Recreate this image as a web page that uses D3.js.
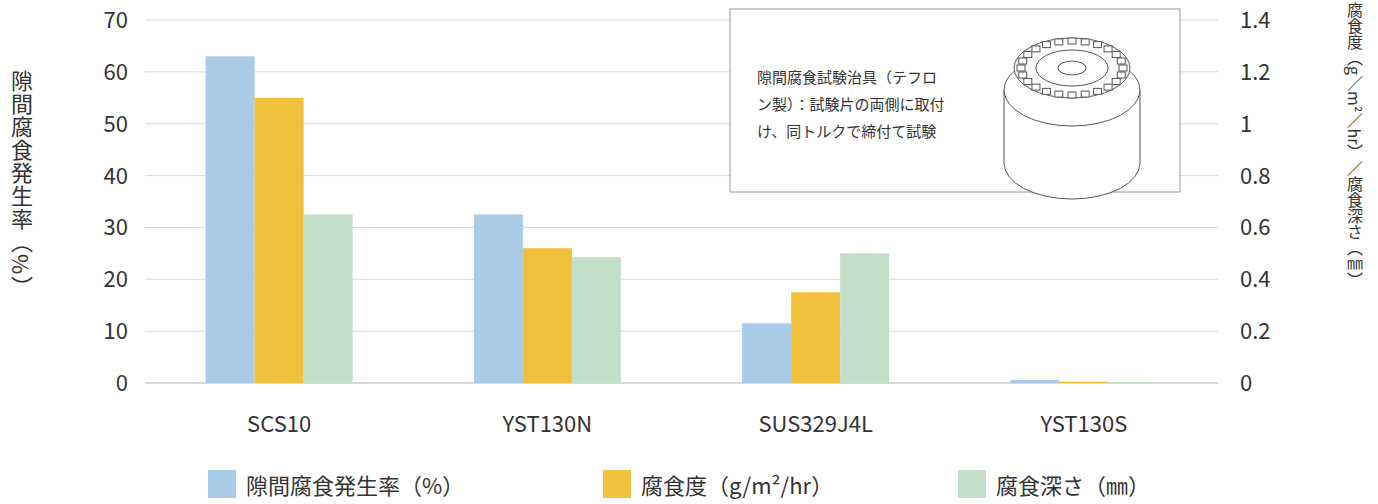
<!DOCTYPE html>
<html><head><meta charset="utf-8">
<script src="https://cdn.jsdelivr.net/npm/d3@7"></script>
<style>body{margin:0;background:#fff}text{font-family:"Noto Sans CJK JP","Noto Sans",sans-serif;fill:#333}</style>
</head><body><div id="chart"></div>
<script>
const categories = ['SCS10', 'YST130N', 'SUS329J4L', 'YST130S'];
const gapRate = [63, 32.5, 11.5, 0.6];          // 隙間腐食発生率 (%)
const corrRate = [1.1, 0.52, 0.35, 0.005];       // 腐食度 g/m²/hr
const corrDepth = [0.65, 0.485, 0.5, 0.004];     // 腐食深さ mm
const leftTicks = [0, 10, 20, 30, 40, 50, 60, 70];
const rightTicks = [0, 0.2, 0.4, 0.6, 0.8, 1, 1.2, 1.4];
const seriesNames = ['隙間腐食発生率（%）', '腐食度（g/m²/hr）', '腐食深さ（㎜）'];
const colors = ['#a9cbe8', '#f2c13b', '#c3dfc8'];

const W = 1378, H = 504;
const svg = d3.select('#chart').append('svg').attr('width', W).attr('height', H);

const x = d3.scaleBand().domain(categories).range([145, 1218]);
const yL = d3.scaleLinear().domain([0, 70]).range([383, 20]);
const yR = d3.scaleLinear().domain([0, 1.4]).range([383, 20]);
const xs = d3.scaleBand().domain([0, 1, 2]).range([0, 147]);

// gridlines
svg.append('g').selectAll('line').data(leftTicks).join('line')
  .attr('x1', 145).attr('x2', 1218).attr('y1', d => yL(d)).attr('y2', d => yL(d))
  .attr('stroke', '#d9d9d9').attr('stroke-width', d => d === 0 ? 2 : 1);

// bars
const series = [
  { vals: gapRate, y: yL },
  { vals: corrRate, y: yR },
  { vals: corrDepth, y: yR }
];
series.forEach((s, i) => {
  svg.append('g').selectAll('rect').data(categories).join('rect')
    .attr('x', (c) => x(c) + x.bandwidth() / 2 - 73.5 + xs(i))
    .attr('width', xs.bandwidth())
    .attr('y', (c, j) => s.y(s.vals[j]))
    .attr('height', (c, j) => 383 - s.y(s.vals[j]))
    .attr('fill', colors[i]);
});

// axes labels
svg.append('g').selectAll('text').data(leftTicks).join('text')
  .attr('x', 128).attr('y', d => yL(d) + 8).attr('text-anchor', 'end')
  .attr('font-size', 22).text(d => d);
svg.append('g').selectAll('text').data(rightTicks).join('text')
  .attr('x', 1240).attr('y', d => yR(d) + 8)
  .attr('font-size', 22).text(d => d);
svg.append('g').selectAll('text').data(categories).join('text')
  .attr('x', c => x(c) + x.bandwidth() / 2).attr('y', 432).attr('text-anchor', 'middle')
  .attr('font-size', 22).text(c => c);

// axis titles (vertical)
svg.append('text').attr('transform', 'translate(22,70)')
  .attr('font-size', 22).style('writing-mode', 'vertical-rl').style('letter-spacing', '1px')
  .text('隙間腐食発生率（%）');
svg.append('text').attr('transform', 'translate(1355,2)')
  .attr('font-size', 16).style('writing-mode', 'vertical-rl')
  .text('腐食度（g／m²／hr）／腐食深さ（㎜）');

// legend
const lg = svg.append('g').selectAll('g').data(seriesNames).join('g')
  .attr('transform', (d, i) => `translate(${[208, 603, 958][i]},470)`);
lg.append('rect').attr('width', 28).attr('height', 28).attr('fill', (d, i) => colors[i]);
lg.append('text').attr('x', 38).attr('y', 24).attr('font-size', 22).text(d => d);

// inset box
const ins = svg.append('g');
ins.append('rect').attr('x', 730).attr('y', 9).attr('width', 450).attr('height', 183)
  .attr('fill', '#fff').attr('stroke', '#999');
['隙間腐食試験治具（テフロ', 'ン製）：試験片の両側に取付', 'け、同トルクで締付て試験'].forEach((t, i) => {
  ins.append('text').attr('x', 757).attr('y', 83 + i * 27).attr('font-size', 15).text(t);
});
// jig illustration
const cx = 1072, cyT = 68, rx = 68, ry = 36;
const jig = ins.append('g').attr('fill', '#fff').attr('stroke', '#555').attr('stroke-width', 1);
jig.append('path').attr('d', `M${cx - rx},${cyT + 22} L${cx - rx},${cyT + 95} A${rx},${ry} 0 0 0 ${cx + rx},${cyT + 95} L${cx + rx},${cyT + 22}`);
jig.append('ellipse').attr('cx', cx).attr('cy', cyT + 22).attr('rx', rx).attr('ry', ry);
jig.append('ellipse').attr('cx', cx).attr('cy', cyT).attr('rx', rx - 10).attr('ry', ry - 6);
jig.append('ellipse').attr('cx', cx).attr('cy', cyT).attr('rx', 36).attr('ry', 18);
jig.append('ellipse').attr('cx', cx).attr('cy', cyT).attr('rx', 14).attr('ry', 7);
d3.range(24).forEach(k => {
  const a = k / 24 * Math.PI * 2;
  jig.append('rect').attr('x', cx + Math.cos(a) * (rx - 17) - 4).attr('y', cyT + Math.sin(a) * (ry - 9) - 3)
    .attr('width', 8).attr('height', 6).attr('fill', '#fff');
});
</script></body></html>
